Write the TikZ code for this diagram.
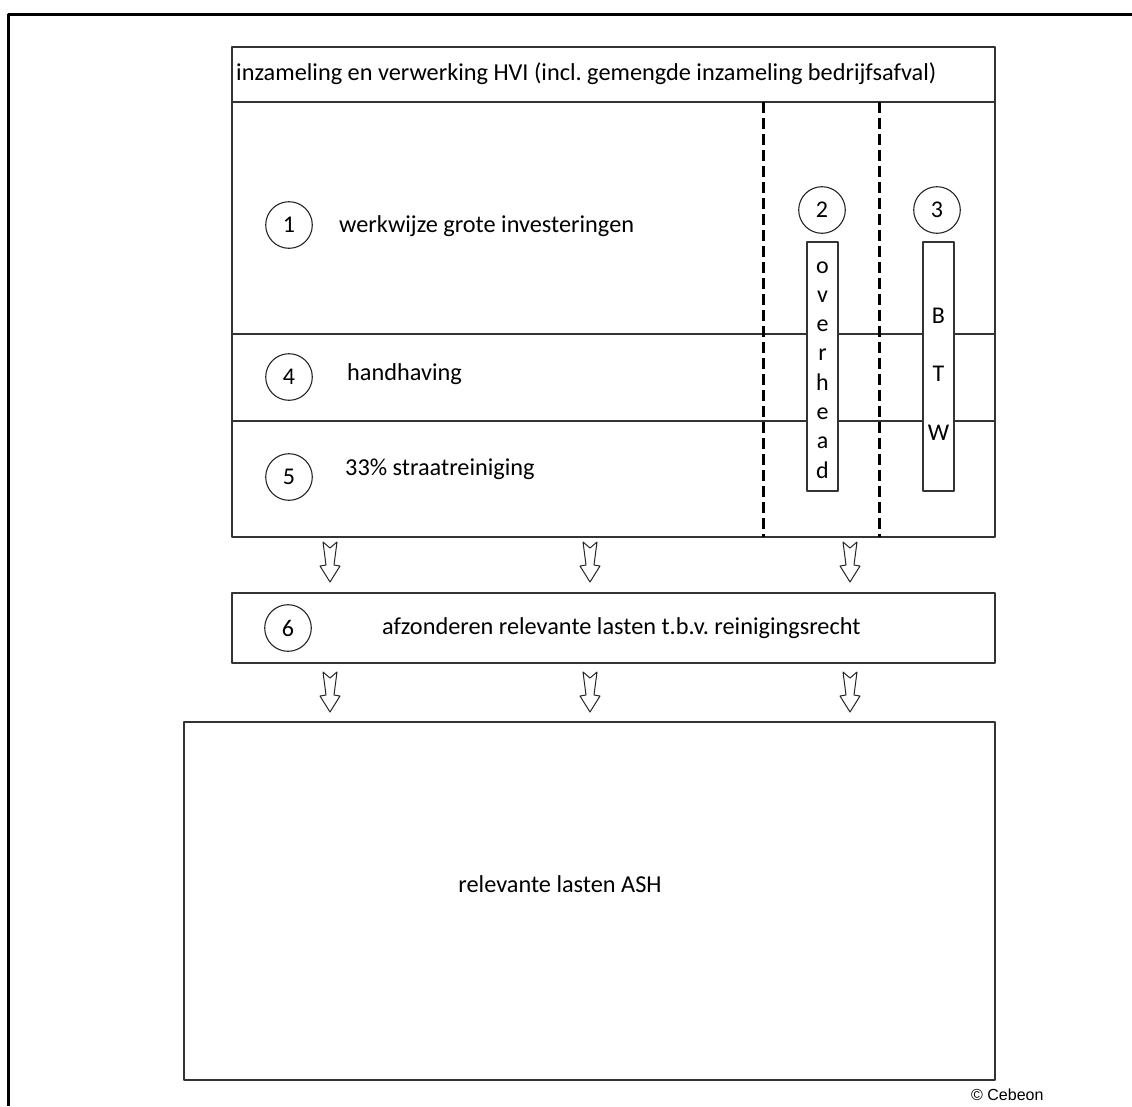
\documentclass[tikz,border=0pt]{standalone}
\usepackage{fontspec}
\setmainfont{Carlito}
\newfontfamily\arialfont{Liberation Sans}
\usetikzlibrary{positioning}
\frenchspacing
\tikzset{
  every picture/.style={line join=round, line cap=round},
  box/.style={draw=black!80, line width=1.4pt, inner sep=0pt, outer sep=0pt},
  num/.style={draw=black!85, circle, line width=1.1pt, minimum size=46.6pt, inner sep=0pt, font=\fontsize{24}{28}\selectfont},
  txt/.style={inner sep=0pt, anchor=west, font=\fontsize{24.3}{28}\selectfont},
  letter/.style={inner sep=0pt, anchor=base, font=\fontsize{24}{28}\selectfont},
  sep/.style={line width=2.5pt, line cap=butt, dash pattern=on 11pt off 5pt},
  frame/.style={line width=3pt, line cap=butt},
  hollow/.style={draw=black!85, line width=1pt, fill=white},
  hollowdown/.pic={\draw[hollow] (-7,0) -- (0,6) -- (7,0) -- (4,23) -- (10,24) -- (0,40) -- (-10,24) -- (-4,23) -- cycle;},
}
\begin{document}
\begin{tikzpicture}[x=1pt,y=-1pt]
\useasboundingbox (0,0) rectangle (1132,1106);
% outer frame
\coordinate (fr) at (1132,14);
\coordinate (fc) at (8,14);
\coordinate (fb) at (8,1106);
\draw[frame] (fr) -- (fc) -- (fb);

% top block
\node[box, minimum width=763pt, minimum height=55pt] (title) at (613.5,74.5) {};
\node[box, minimum width=763pt, minimum height=232pt, below=0pt of title] (row1) {};
\node[box, minimum width=763pt, minimum height=87pt, below=0pt of row1] (row4) {};
\node[box, minimum width=763pt, minimum height=116pt, below=0pt of row4] (row5) {};
\node[txt] (titletxt) at (236,74) {inzameling en verwerking HVI (incl. gemengde inzameling bedrijfsafval)};

% dashed columns
\coordinate (d1) at (763.5,102);
\coordinate (d2) at (879.5,102);
\draw[sep] (d1) -- (d1 |- row5.south);
\draw[sep] (d2) -- (d2 |- row5.south);

\node[num] (n1) at (289,225) {1};
\node[txt] (t1) at (339,226) {werkwijze grote investeringen};
\node[num] (n4) at (289,377) {4};
\node[txt] (t4) at (347,374) {handhaving};
\node[num] (n5) at (289,477) {5};
\node[txt] (t5) at (345,469) {33\% straatreiniging};

\node[num] (n2) at (822,210) {2};
\node[num] (n3) at (937,210) {3};
\node[box, fill=white, minimum width=31pt, minimum height=249pt] (ovh) at (822.5,366.5) {};
\node[box, fill=white, minimum width=31pt, minimum height=249pt] (btw) at (938.5,366.5) {};
\foreach \ch [count=\i] in {o,v,e,r,h,e,a,d}
  \node[letter] (ovh\i) at (822.5,243.7+29.3*\i) {\ch};
\foreach \ch [count=\i] in {B,T,W}
  \node[letter] (btw\i) at (938.5,264.3+58.7*\i) {\ch};

% step 6
\node[box, minimum width=763pt, minimum height=70pt] (step6) at (613.5,628) {};
\node[num] (n6) at (288,628) {6};
\node[txt] (t6) at (382,628) {afzonderen relevante lasten t.b.v. reinigingsrecht};

% result
\node[box, minimum width=811pt, minimum height=358pt] (ash) at (589.5,901) {};
\node[inner sep=0pt, font=\fontsize{24.3}{28}\selectfont] (tash) at (560,884) {relevante lasten ASH};
\node[inner sep=0pt, anchor=west, font=\arialfont\fontsize{16}{19}\selectfont] (copy) at (971,1095) {© Cebeon};

% arrows between the blocks
\foreach \ax in {330,590,850} {
  \coordinate (col) at (\ax,0);
  \pic at ([yshift=-5pt]row5.south -| col) {hollowdown};
  \pic at ([yshift=-9pt]step6.south -| col) {hollowdown};
}
\end{tikzpicture}
\end{document}
